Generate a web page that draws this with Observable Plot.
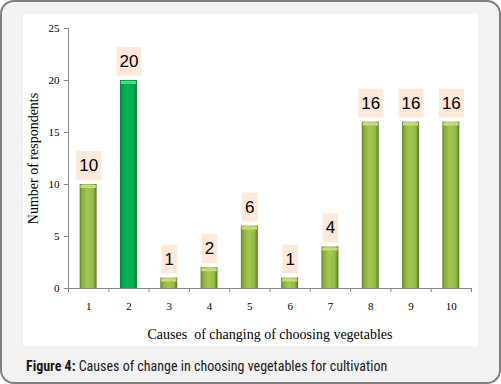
<!DOCTYPE html>
<html><head><meta charset="utf-8">
<script src="https://cdn.jsdelivr.net/npm/d3@7"></script>
<script src="https://cdn.jsdelivr.net/npm/@observablehq/plot@0.6"></script>
<style>
html,body{margin:0;padding:0;background:#fff;}
#frame{position:absolute;left:0;top:0;width:497px;height:380px;border:2px solid #7f7f7f;border-radius:14px;background:#f2f2f2;overflow:hidden}
#panel{position:absolute;left:21px;top:12px;width:455px;height:332px;background:#fff}
#panel svg{display:block}
#caption{position:absolute;left:24px;top:356px;font-size:14px;font-family:"Liberation Sans Narrow","Roboto Condensed","Liberation Sans",Arial,sans-serif;color:#1a1a1a;white-space:nowrap}
#caption b{font-weight:bold}
</style>
</head><body>
<div id="frame"><div id="panel"></div><div id="caption"></div></div>
<script>
const causes = [1,2,3,4,5,6,7,8,9,10];
const respondents = [10,20,1,2,6,1,4,16,16,16];
const highlighted = [2];
const yTicks = [0,5,10,15,20,25];
const xTitle = "Causes\u00a0 of changing of choosing vegetables";
const yTitle = "Number of respondents";
const captionLead = "Figure 4:";
const captionText = " Causes of change in choosing vegetables for cultivation";

const data = causes.map((c,i)=>({cause:c, value:respondents[i], hi: highlighted.includes(c)}));
const half = 0.21;
const boundaries = d3.range(causes[0]-0.5, causes[causes.length-1]+1, 1);
const serif = "'Liberation Serif','Times New Roman',serif";
const axisColor = "#868686";

const barOpts = (hi, fill) => ({filter: d=>d.hi===hi, x1: d=>d.cause-half, x2: d=>d.cause+half, y1: 0, y2: "value", fill});
const capOpts = (hi, stroke) => ({filter: d=>d.hi===hi, y: "value", x1: d=>d.cause-half+0.02, x2: d=>d.cause+half-0.02, dy: 2, stroke, strokeWidth: 3});

const chart = Plot.plot({
  width: 455, height: 332,
  marginLeft: 45, marginRight: 7, marginTop: 14, marginBottom: 58,
  style: {fontFamily: serif, fontSize: "11px", color: "#000", background: "transparent", overflow: "visible"},
  x: {domain: [boundaries[0], boundaries[boundaries.length-1]]},
  y: {domain: [0, 25]},
  marks: [
    Plot.rectY(data, barOpts(false, "url(#gOlive)")),
    Plot.rectY(data, barOpts(true, "url(#gGreen)")),
    Plot.ruleY(data, capOpts(false, "#c4df78")),
    Plot.ruleY(data, capOpts(true, "#4cd98a")),
    Plot.ruleY([0], {stroke: axisColor}),
    Plot.ruleX([boundaries[0]], {y1: 0, y2: 25, stroke: axisColor}),
    Plot.axisY({ticks: yTicks, tickSize: 4, tickPadding: 5, stroke: axisColor,
      label: yTitle, labelAnchor: "center", labelArrow: "none", labelOffset: 40}),
    Plot.axisX({ticks: boundaries, tickSize: 4, tickFormat: () => "", label: null, stroke: axisColor}),
    Plot.axisX({ticks: causes, tickSize: 0, tickPadding: 14, tickFormat: d => String(d),
      label: xTitle, labelAnchor: "center", labelArrow: "none", labelOffset: 50}),
    Plot.text(data, {x: "cause", y: "value", text: d => String(d.value), dy: -19, fontSize: 17, fontFamily: "'Liberation Sans',Arial,sans-serif", fill: "#000", className: "vlabel"})
  ]
});
document.getElementById("panel").appendChild(chart);

const svg = d3.select(chart);
svg.selectAll("g[aria-label='y-axis label'] text, g[aria-label='x-axis label'] text")
  .attr("font-size", 14).style("font-size", "14px").attr("fill", "#000");

const defs = svg.insert("defs", ":first-child");
function grad(id, stops){
  const g = defs.append("linearGradient").attr("id", id).attr("x1", 0).attr("x2", 1).attr("y1", 0).attr("y2", 0);
  stops.forEach(([o, c]) => g.append("stop").attr("offset", o).attr("stop-color", c));
}
grad("gOlive", [[0,"#5f7d22"],[0.12,"#86ab3a"],[0.45,"#a3c852"],[0.8,"#93bb45"],[1,"#587420"]]);
grad("gGreen", [[0,"#087a38"],[0.12,"#03a449"],[0.45,"#00b854"],[0.85,"#00a84c"],[1,"#087035"]]);

svg.selectAll("g.vlabel text").each(function(){
  const b = this.getBBox();
  const cy = b.y + b.height/2;
  const r = d3.select(this.parentNode).insert("rect", () => this)
    .attr("x", b.x - 3).attr("width", b.width + 6)
    .attr("y", cy - 14.5).attr("height", 29)
    .attr("fill", "#fde9d9");
  const t = this.getAttribute("transform");
  if (t) r.attr("transform", t);
});

const cap = document.getElementById("caption");
const lead = document.createElement("b"); lead.textContent = captionLead;
cap.appendChild(lead); cap.appendChild(document.createTextNode(captionText));
</script>
</body></html>
